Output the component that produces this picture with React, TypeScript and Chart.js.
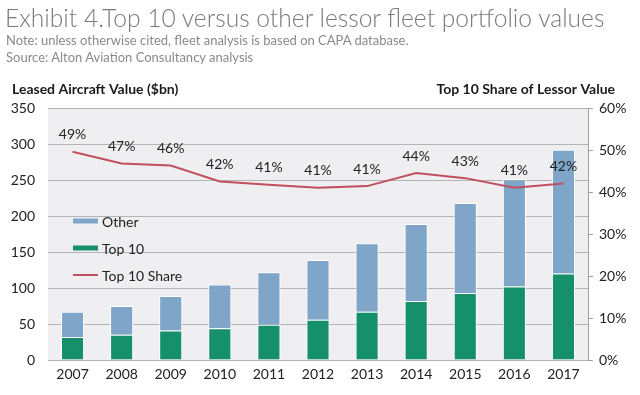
import React, { useEffect, useRef } from "react";
import { Chart, registerables } from "chart.js";

Chart.register(...registerables);

const years = ["2007", "2008", "2009", "2010", "2011", "2012", "2013", "2014", "2015", "2016", "2017"];
const top10Values = [32, 35, 41, 44, 49, 56, 67, 82, 93, 102, 120];
const otherValues = [35, 40, 48, 61, 73, 83, 95, 107, 125, 149, 172];
const shareValues = [49.6, 46.8, 46.3, 42.5, 41.7, 41.0, 41.4, 44.5, 43.3, 41.0, 42.0];
const shareLabels = ["49%", "47%", "46%", "42%", "41%", "41%", "41%", "44%", "43%", "41%", "42%"];
const leftTicks = [0, 50, 100, 150, 200, 250, 300, 350];
const rightTicks = [0, 10, 20, 30, 40, 50, 60];

const FONT = "Lato, 'Open Sans', sans-serif";
const BLUE = "#7fa6c9";
const GREEN = "#168f6b";
const RED = "#c0505f";
const GRID = "#b4b4b4";

const extrasPlugin = {
  id: "extras",
  beforeDraw(chart: any) {
    const { ctx, chartArea } = chart;
    ctx.save();
    ctx.fillStyle = "#efeef0";
    ctx.fillRect(chartArea.left, chartArea.top, chartArea.right - chartArea.left, chartArea.bottom - chartArea.top);
    ctx.restore();
  },
  afterDraw(chart: any) {
    const { ctx, chartArea } = chart;
    ctx.save();
    // axis titles
    ctx.fillStyle = "#1a1a1a";
    ctx.font = `bold 14px ${FONT}`;
    ctx.textBaseline = "middle";
    ctx.textAlign = "left";
    ctx.fillText("Leased Aircraft Value ($bn)", 12, 89);
    ctx.textAlign = "right";
    ctx.fillText("Top 10 Share of Lessor Value", 615, 89);

    // line labels
    const meta = chart.getDatasetMeta(2);
    ctx.font = `14px ${FONT}`;
    ctx.fillStyle = "#222";
    ctx.textAlign = "center";
    meta.data.forEach((pt: any, i: number) => {
      ctx.fillText(shareLabels[i], pt.x, pt.y - 17);
    });

    // legend
    const lx = chartArea.left + 25;
    const items = [
      { label: "Other", color: BLUE, h: 5, y: 222 },
      { label: "Top 10", color: GREEN, h: 5, y: 249 },
      { label: "Top 10 Share", color: RED, h: 2, y: 276 },
    ];
    ctx.textAlign = "left";
    ctx.font = `14px ${FONT}`;
    items.forEach((it) => {
      ctx.fillStyle = it.color;
      ctx.fillRect(lx, it.y - it.h / 2 - 1, 25, it.h);
      ctx.fillStyle = "#222";
      ctx.fillText(it.label, lx + 29, it.y);
    });
    ctx.restore();
  },
};

export default function App() {
  const ref = useRef<HTMLCanvasElement>(null);
  useEffect(() => {
    const chart = new Chart(ref.current!, {
      type: "bar",
      data: {
        labels: years,
        datasets: [
          {
            label: "Top 10",
            data: top10Values,
            backgroundColor: GREEN,
            borderColor: "#ffffff",
            borderWidth: 1,
            stack: "s",
            yAxisID: "y",
            order: 2,
          },
          {
            label: "Other",
            data: otherValues,
            backgroundColor: BLUE,
            borderColor: "#ffffff",
            borderWidth: 1,
            stack: "s",
            yAxisID: "y",
            order: 2,
          },
          {
            type: "line",
            label: "Top 10 Share",
            data: shareValues,
            borderColor: RED,
            borderWidth: 2,
            pointRadius: 0,
            tension: 0,
            yAxisID: "y1",
            order: 1,
          } as any,
        ],
      },
      options: {
        animation: false,
        responsive: false,
        maintainAspectRatio: false,
        devicePixelRatio: 1,
        layout: { padding: { top: 108, left: 0, right: 0, bottom: 0 } },
        datasets: { bar: { barPercentage: 0.47, categoryPercentage: 1 } },
        plugins: { legend: { display: false }, tooltip: { enabled: false } },
        scales: {
          x: {
            stacked: true,
            grid: { display: false, drawTicks: false },
            border: { display: false },
            ticks: { color: "#222", font: { family: FONT, size: 14 }, padding: 6, maxRotation: 0 },
            afterFit(s: any) {
              s.height = 35;
            },
          },
          y: {
            stacked: true,
            position: "left",
            min: 0,
            max: 350,
            afterBuildTicks(s: any) {
              s.ticks = leftTicks.map((v) => ({ value: v }));
            },
            grid: { color: GRID, lineWidth: 1, drawTicks: false },
            border: { display: false },
            ticks: { color: "#222", font: { family: FONT, size: 14 }, padding: 13 },
            afterFit(s: any) {
              s.width = 48;
            },
          },
          y1: {
            position: "right",
            min: 0,
            max: 60,
            afterBuildTicks(s: any) {
              s.ticks = rightTicks.map((v) => ({ value: v }));
            },
            grid: { drawOnChartArea: false, drawTicks: true, tickLength: 5, color: "#a0a0a0" },
            border: { display: true, color: "#a0a0a0", width: 1 },
            ticks: {
              color: "#222",
              font: { family: FONT, size: 14 },
              padding: 6,
              callback: (v: any) => `${v}%`,
            },
            afterFit(s: any) {
              s.width = 52;
            },
          },
        },
      },
      plugins: [extrasPlugin],
    });
    return () => chart.destroy();
  }, []);

  return (
    <div style={{ position: "absolute", left: 0, top: 0, width: 640, height: 395, background: "#fff", overflow: "hidden" }}>
      <canvas ref={ref} width={640} height={395} style={{ position: "absolute", left: 0, top: 0, width: 640, height: 395 }} />
      <div
        style={{
          position: "absolute",
          left: 5,
          top: 3,
          fontFamily: FONT,
          fontWeight: 300,
          fontSize: 24.6,
          color: "#7a7a7a",
          whiteSpace: "nowrap",
          lineHeight: "30px",
        }}
      >
        Exhibit 4.Top 10 versus other lessor fleet portfolio values
      </div>
      <div
        style={{
          position: "absolute",
          left: 6,
          top: 32,
          fontFamily: FONT,
          fontSize: 13,
          color: "#8a8a8a",
          whiteSpace: "nowrap",
          lineHeight: "17px",
        }}
      >
        Note: unless otherwise cited, fleet analysis is based on CAPA database.
        <br />
        Source: Alton Aviation Consultancy analysis
      </div>
    </div>
  );
}
